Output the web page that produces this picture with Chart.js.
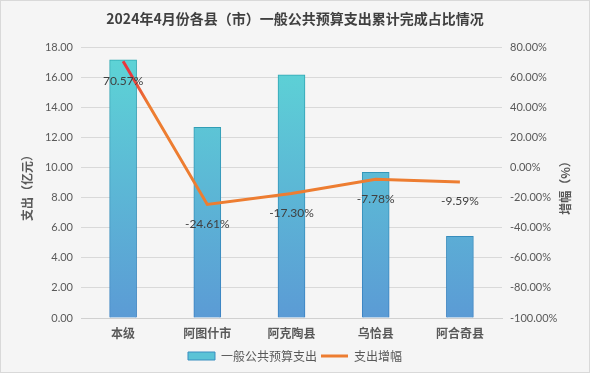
<!DOCTYPE html>
<html>
<head>
<meta charset="utf-8">
<script src="https://cdn.jsdelivr.net/npm/chart.js@4"></script>
<style>
  html, body { margin: 0; padding: 0; background: #f5f5f5; }
  #wrap { width: 590px; height: 373px; }
</style>
</head>
<body>
<div id="wrap"><canvas id="chart" width="590" height="373"></canvas></div>
<script>
const categories = ['本级', '阿图什市', '阿克陶县', '乌恰县', '阿合奇县'];
const spending = [17.14, 12.67, 16.15, 9.68, 5.43];
const growth = [70.57, -24.61, -17.30, -7.78, -9.59];
const leftTicks = [0, 18, 2];      // min, max, step
const rightTicks = [-100, 80, 20]; // min, max, step

const FONT = "Lato, 'Noto Sans CJK SC', sans-serif";
const CJK = "'Noto Sans CJK SC', sans-serif";
const TEXT = '#595959';

// Background, frame, title and both axis titles
const decor = {
  id: 'decor',
  beforeDraw(chart) {
    const ctx = chart.ctx;
    ctx.save();
    ctx.fillStyle = '#f5f5f5';
    ctx.fillRect(0, 0, chart.width, chart.height);
    ctx.strokeStyle = '#d9d9d9';
    ctx.lineWidth = 1;
    ctx.strokeRect(0.5, 0.5, chart.width - 1, chart.height - 1);
    ctx.restore();
  },
  afterDraw(chart) {
    const ctx = chart.ctx;
    ctx.save();
    ctx.fillStyle = '#404040';
    ctx.font = "bold 14px " + CJK;
    ctx.textAlign = 'center';
    ctx.textBaseline = 'middle';
    ctx.fillText('2024年4月份各县（市）一般公共预算支出累计完成占比情况', 295, 19);

    ctx.fillStyle = TEXT;
    ctx.font = "bold 12px " + CJK;
    ctx.translate(27, 185);
    ctx.rotate(-Math.PI / 2);
    ctx.fillText('支出（亿元）', 0, 0);
    ctx.restore();

    ctx.save();
    ctx.fillStyle = TEXT;
    ctx.font = "bold 12px " + CJK;
    ctx.textAlign = 'center';
    ctx.textBaseline = 'middle';
    ctx.translate(565, 185);
    ctx.rotate(-Math.PI / 2);
    ctx.fillText('增幅（%）', 0, 0);
    ctx.restore();
  }
};

// Value labels under the line points
const lineLabels = {
  id: 'lineLabels',
  afterDatasetsDraw(chart) {
    const ctx = chart.ctx;
    const meta = chart.getDatasetMeta(1);
    ctx.save();
    ctx.fillStyle = '#404040';
    ctx.font = "12px " + FONT;
    ctx.textAlign = 'center';
    ctx.textBaseline = 'middle';
    meta.data.forEach((p, i) => {
      ctx.fillText(growth[i].toFixed(2) + '%', p.x, p.y + 19.5);
    });
    ctx.restore();
  }
};

function barFill(c) {
  const { ctx, chartArea } = c.chart;
  if (!chartArea) return '#5bc3d6';
  const g = ctx.createLinearGradient(0, chartArea.top, 0, chartArea.bottom);
  g.addColorStop(0, '#5dd6d6');
  g.addColorStop(1, '#5b9bd5');
  return g;
}

function barBorder(c) {
  const { ctx, chartArea } = c.chart;
  if (!chartArea) return '#3aa3bf';
  const g = ctx.createLinearGradient(0, chartArea.top, 0, chartArea.bottom);
  g.addColorStop(0, '#2eaab0');
  g.addColorStop(1, '#3a80c2');
  return g;
}

function lineColor(c) {
  const { ctx, chartArea } = c.chart;
  if (!chartArea) return '#ed7d31';
  const g = ctx.createLinearGradient(chartArea.left, 0, chartArea.right, 0);
  g.addColorStop(0.09, '#e8383d');
  g.addColorStop(0.12, '#e8383d');
  g.addColorStop(0.16, '#ed7d31');
  g.addColorStop(1, '#ed7d31');
  return g;
}

new Chart(document.getElementById('chart'), {
  data: {
    labels: categories,
    datasets: [{
      type: 'bar',
      label: '一般公共预算支出',
      data: spending,
      yAxisID: 'y',
      backgroundColor: barFill,
      borderColor: barBorder,
      borderWidth: 1,
      barThickness: 27,
      order: 1
    }, {
      type: 'line',
      label: '支出增幅',
      data: growth,
      yAxisID: 'y1',
      borderColor: lineColor,
      backgroundColor: '#ed7d31',
      borderWidth: 3,
      pointRadius: 0,
      tension: 0,
      order: 0
    }]
  },
  options: {
    responsive: false,
    animation: false,
    layout: { padding: { top: 47, left: 0, right: 0, bottom: 1 } },
    plugins: {
      title: { display: false },
      tooltip: { enabled: false },
      legend: {
        position: 'bottom',
        labels: {
          usePointStyle: true,
          pointStyleWidth: 27,
          boxHeight: 8,
          padding: 4,
          color: TEXT,
          font: { family: CJK, size: 12 },
          generateLabels() {
            return [
              { text: '一般公共预算支出', pointStyle: 'rect', fillStyle: '#5bc3d6', strokeStyle: '#3a8fc0', lineWidth: 1, datasetIndex: 0, fontColor: TEXT },
              { text: '支出增幅', pointStyle: 'line', fillStyle: '#ed7d31', strokeStyle: '#ed7d31', lineWidth: 3, datasetIndex: 1, fontColor: TEXT }
            ];
          }
        }
      }
    },
    scales: {
      x: {
        grid: { display: false, drawTicks: false },
        border: { color: '#d0d0d0' },
        ticks: { color: TEXT, padding: 8, font: { family: CJK, size: 12, weight: 'bold' } },
        afterFit(s) { s.height = 28; }
      },
      y: {
        position: 'left',
        min: leftTicks[0], max: leftTicks[1],
        grid: { color: '#d9d9d9', drawTicks: false },
        border: { display: false },
        ticks: {
          stepSize: leftTicks[2], padding: 8, color: TEXT,
          font: { family: FONT, size: 11 },
          callback: v => v.toFixed(2)
        },
        afterFit(s) { s.width = 81; }
      },
      y1: {
        position: 'right',
        min: rightTicks[0], max: rightTicks[1],
        grid: { display: false, drawTicks: false },
        border: { display: false },
        ticks: {
          stepSize: rightTicks[2], padding: 8, color: TEXT,
          font: { family: FONT, size: 11 },
          callback: v => v.toFixed(2) + '%'
        },
        afterFit(s) { s.width = 88; }
      }
    }
  },
  plugins: [decor, lineLabels]
});
</script>
</body>
</html>
